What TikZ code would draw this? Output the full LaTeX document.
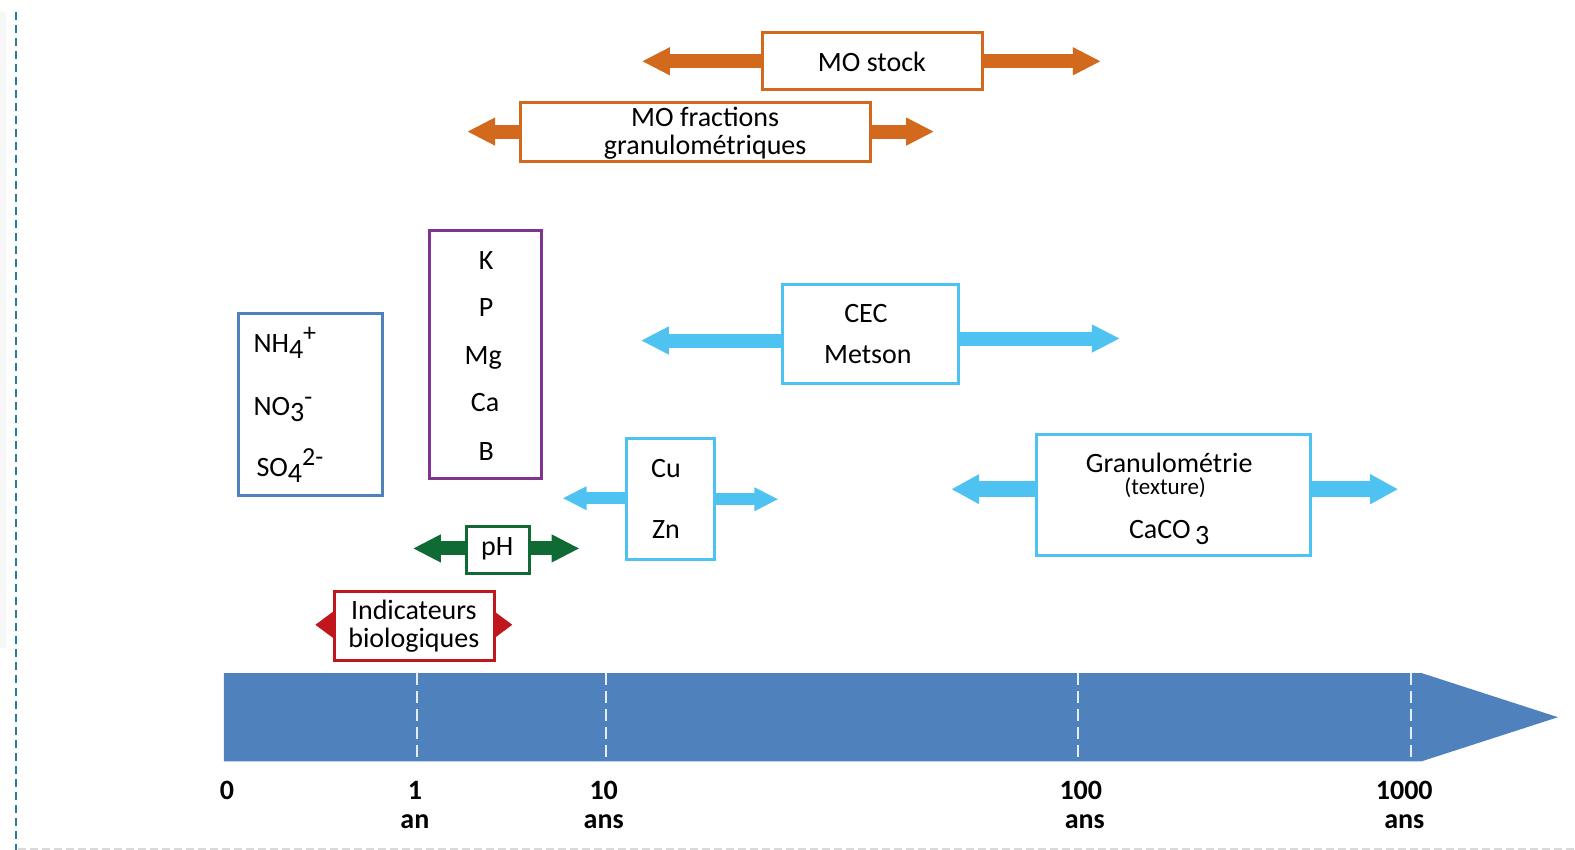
\documentclass[tikz,border=0pt]{standalone}
\usepackage{fontspec}
\setmainfont{Carlito}
\usetikzlibrary{arrows.meta}
\definecolor{moorange}{HTML}{D2691C}
\definecolor{kpurple}{HTML}{7F3590}
\definecolor{nblue}{HTML}{4F81BD}
\definecolor{lblue}{HTML}{4EC3F1}
\definecolor{phgreen}{HTML}{0F6B33}
\definecolor{bred}{HTML}{C0171E}
\definecolor{tline}{HTML}{4F81BD}
\definecolor{edgeblue}{HTML}{2B7BA0}
\newcommand\subd[1]{\raisebox{-0.45ex}{#1}}
\newcommand\supu[1]{\raisebox{0.8ex}{\fontsize{13}{13}\selectfont #1}}
\begin{document}
\begin{tikzpicture}[x=0.50225pt,y=-0.50225pt,
  font=\fontsize{14}{16}\selectfont,
  box/.style={draw, line width=1.5pt, fill=white, inner sep=0pt},
  txt/.style={anchor=base, inner sep=0pt},
  fat/.style={line width=7pt, -{Triangle[length=14pt,width=13pt]}},
  fatb/.style={line width=8pt, -{Triangle[length=14pt,width=14pt]}},
  slim/.style={line width=6pt, -{Triangle[length=12pt,width=11pt]}},
  tick/.style={anchor=base, inner sep=0pt, font=\fontsize{14}{16}\selectfont\bfseries},
  wdash/.style={white, line width=1pt, dash pattern=on 6pt off 3pt, opacity=0.85}]
\useasboundingbox (0,0) rectangle (1568,846);
% faint left strip and page guides
\fill[black!3] (0,12) rectangle (6,645);
\draw[edgeblue, line width=1pt, dash pattern=on 4pt off 2.5pt] (16,12) -- (16,846);
\draw[black!15, line width=0.8pt, dash pattern=on 4pt off 2pt] (18,845) -- (1568,845);

% timeline
\fill[tline] (223,670) -- (1415,670) -- (1551,714) -- (1415,758) -- (223,758) -- cycle;
\foreach \xx in {415,603,1073,1405} \draw[wdash] (\xx,670) -- (\xx,758);
\node[tick] (t0) at (226,796) {0};
\node[tick] (t1) at (413,796) {1};
\node[tick] (t1u) at (413,825) {an};
\node[tick] (t10) at (601,796) {10};
\node[tick] (t10u) at (601,825) {ans};
\node[tick] (t100) at (1076,796) {100};
\node[tick] (t100u) at (1080,825) {ans};
\node[tick] (t1000) at (1398,796) {1000};
\node[tick] (t1000u) at (1398,825) {ans};

% tip coordinates
\coordinate (msL) at (639,61);
\coordinate (msR) at (1096,61);
\coordinate (mfL) at (465,131);
\coordinate (mfR) at (930,131);
\coordinate (cecL) at (638,339);
\coordinate (cecR) at (1115,337);
\coordinate (cuL) at (560,496);
\coordinate (cuR) at (775,497);
\coordinate (grL) at (947,487);
\coordinate (grR) at (1392,487);
\coordinate (phL) at (411,546);
\coordinate (phR) at (577,546);
\coordinate (inL) at (314,622);
\coordinate (inR) at (510,622);

% boxes (anchors)
\node[box, moorange, minimum width=108.5pt, minimum height=27.1pt] (mostock) at (868.5,60.5) {};
\node[box, moorange, minimum width=173.8pt, minimum height=28.1pt] (mofrac) at (692.5,131.5) {};
\node[box, kpurple, minimum width=54.2pt, minimum height=122.5pt] (kbox) at (483.5,352.5) {};
\node[box, nblue, minimum width=70.8pt, minimum height=89.4pt] (nbox) at (309,402.5) {};
\node[box, lblue, minimum width=86.4pt, minimum height=48.2pt] (cec) at (866.5,332.5) {};
\node[box, lblue, minimum width=42.2pt, minimum height=58.8pt] (cuzn) at (667.5,497) {};
\node[box, lblue, minimum width=135.6pt, minimum height=58.8pt] (gran) at (1168.5,493) {};
\node[box, phgreen, minimum width=30.1pt, minimum height=22.1pt] (ph) at (495.5,547.5) {};
\node[box, bred, minimum width=78.4pt, minimum height=33.2pt] (ind) at (412.5,623.5) {};

% arrows
\draw[fat, moorange] (mostock.west |- msL) -- (msL);
\draw[fat, moorange] (mostock.east |- msR) -- (msR);
\draw[fat, moorange] (mofrac.west |- mfL) -- (mfL);
\draw[fat, moorange] (mofrac.east |- mfR) -- (mfR);
\draw[fat, lblue] (cec.west |- cecL) -- (cecL);
\draw[fat, lblue] (cec.east |- cecR) -- (cecR);
\draw[slim, lblue] (cuzn.west |- cuL) -- (cuL);
\draw[slim, lblue] (cuzn.east |- cuR) -- (cuR);
\draw[fatb, lblue] (gran.west |- grL) -- (grL);
\draw[fatb, lblue] (gran.east |- grR) -- (grR);
\draw[fat, phgreen] (ph.west |- phL) -- (phL);
\draw[fat, phgreen] (ph.east |- phR) -- (phR);
\draw[bred, line width=0.5pt, -{Triangle[length=9.5pt,width=14pt]}] (ind.west |- inL) -- (inL);
\draw[bred, line width=0.5pt, -{Triangle[length=9.5pt,width=14pt]}] (ind.east |- inR) -- (inR);

% redraw boxes on top of arrow shafts
\foreach \b/\c in {mostock/moorange, mofrac/moorange, kbox/kpurple, nbox/nblue, cec/lblue, cuzn/lblue, gran/lblue, ph/phgreen, ind/bred}
  \draw[\c, line width=1.5pt, fill=white] (\b.north west) rectangle (\b.south east);

% texts
\node[txt] (tms) at (868,71) {MO stock};
\node[txt] (tmf1) at (702,126) {MO fractions};
\node[txt] (tmf2) at (702,154) {granulométriques};
\node[txt] (tk) at (484,268) {K};
\node[txt] (tp) at (484,315) {P};
\node[txt] (tmg) at (481,363) {Mg};
\node[txt] (tca) at (483,410) {Ca};
\node[txt] (tb) at (484,458) {B};
\node[txt, anchor=base west] (tnh) at (252,351) {NH\subd{4}\supu{+}};
\node[txt, anchor=base west] (tno) at (252,414) {NO\subd{3}\supu{-}};
\node[txt, anchor=base west] (tso) at (255,474) {SO\subd{4}\supu{2-}};
\node[txt] (tcec) at (862,321) {CEC};
\node[txt] (tmet) at (864,362) {Metson};
\node[txt] (tcu) at (663,475) {Cu};
\node[txt] (tzn) at (663,536) {Zn};
\node[txt] (tgr) at (1164,470) {Granulométrie};
\node[txt, font=\fontsize{11.5}{12}\selectfont] (ttex) at (1160,492) {(texture)};
\node[txt] (tcaco) at (1164,536) {CaCO\,\subd{3}};
\node[txt] (tph) at (495,553) {pH};
\node[txt] (tind1) at (412,617) {Indicateurs};
\node[txt] (tind2) at (412,645) {biologiques};
\end{tikzpicture}
\end{document}
